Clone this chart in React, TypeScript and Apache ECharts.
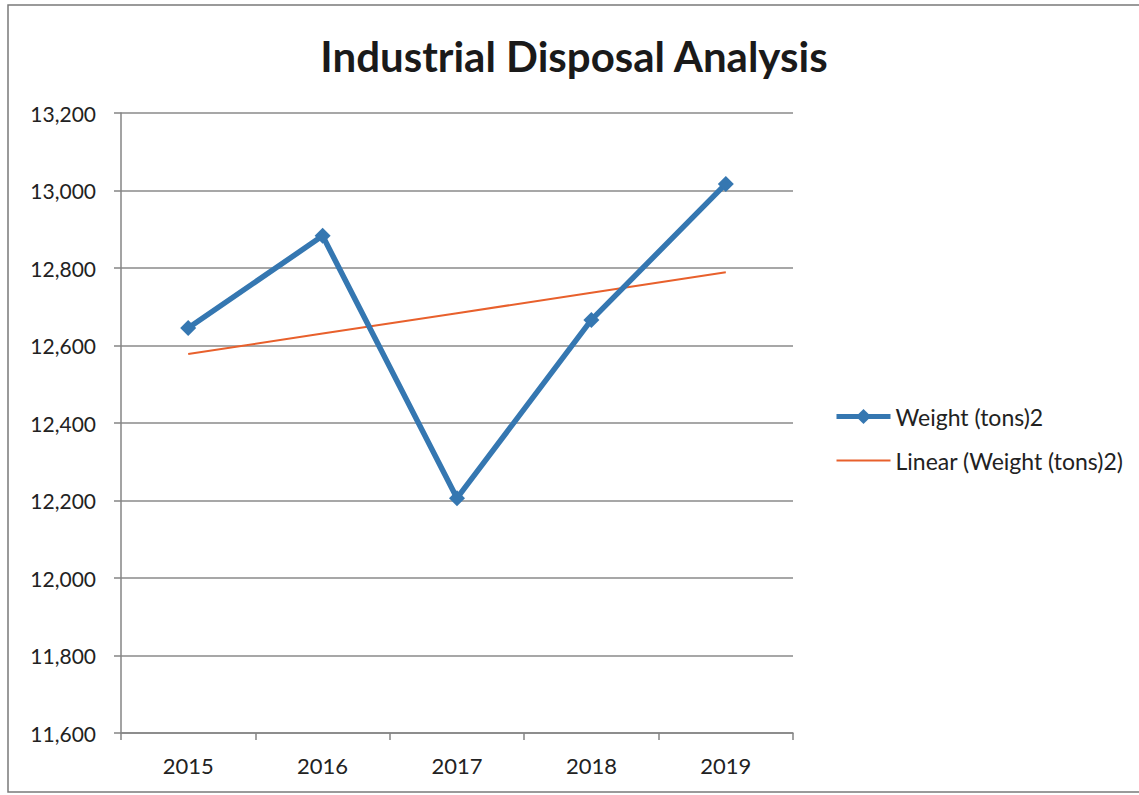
import React, { useEffect, useRef } from "react";
import * as echarts from "echarts";

const categories = ["2015", "2016", "2017", "2018", "2019"];
const weightValues = [12645, 12883, 12206, 12666, 13017];
const yTicks = { min: 11600, max: 13200, interval: 200 };
const seriesName = "Weight (tons)2";
const trendName = "Linear (Weight (tons)2)";

function linearTrend(vals: number[]): number[] {
  const n = vals.length;
  const xs = vals.map((_, i) => i + 1);
  const mx = xs.reduce((a, b) => a + b, 0) / n;
  const my = vals.reduce((a, b) => a + b, 0) / n;
  let num = 0, den = 0;
  for (let i = 0; i < n; i++) {
    num += (xs[i] - mx) * (vals[i] - my);
    den += (xs[i] - mx) * (xs[i] - mx);
  }
  const slope = num / den;
  return xs.map((x) => Math.round((my + slope * (x - mx)) * 10) / 10);
}

export default function App() {
  const ref = useRef<HTMLDivElement>(null);
  useEffect(() => {
    if (!ref.current) return;
    const chart = echarts.init(ref.current, undefined, { renderer: "svg" });
    const font = "Lato, 'Open Sans', sans-serif";
    chart.setOption({
      animation: false,
      backgroundColor: "#ffffff",
      title: {
        text: "Industrial Disposal Analysis",
        left: 569,
        top: 30,
        textAlign: "center",
        textStyle: { fontFamily: font, fontSize: 42, fontWeight: "bold", color: "#1a1a1a" },
      },
      graphic: [
        {
          type: "rect",
          shape: { x: 8, y: 5, width: 1140, height: 787 },
          style: { fill: "none", stroke: "#7a7a7a", lineWidth: 1.5 },
          silent: true,
        },
      ],
      grid: { left: 121, right: 1139 - 793, top: 113, bottom: 795 - 733, containLabel: false },
      legend: {
        orient: "vertical",
        left: 829,
        top: 400,
        itemGap: 21,
        itemWidth: 54,
        itemHeight: 19,
        textStyle: { fontFamily: font, fontSize: 23, color: "#222" },
        data: [
          { name: seriesName, lineStyle: { width: 5 } },
          { name: trendName, itemStyle: { opacity: 0 }, lineStyle: { width: 2 } },
        ],
      },
      xAxis: {
        type: "category",
        data: categories,
        boundaryGap: true,
        axisLine: { lineStyle: { color: "#858585", width: 1.5 } },
        axisTick: { show: true, alignWithLabel: false, length: 7, lineStyle: { color: "#858585", width: 1.5 } },
        axisLabel: { fontFamily: font, fontSize: 22, color: "#222", margin: 21 },
      },
      yAxis: {
        type: "value",
        min: yTicks.min,
        max: yTicks.max,
        interval: yTicks.interval,
        axisLine: { show: true, lineStyle: { color: "#858585", width: 1.5 } },
        axisTick: { show: true, length: 7, lineStyle: { color: "#858585", width: 1.5 } },
        splitLine: { show: true, lineStyle: { color: "#8a8a8a", width: 1.5 } },
        axisLabel: {
          fontFamily: font,
          fontSize: 21,
          color: "#222",
          margin: 25,
          formatter: (v: number) => v.toLocaleString("en-US"),
        },
      },
      series: [
        {
          name: seriesName,
          type: "line",
          data: weightValues,
          symbol: "diamond",
          symbolSize: 16,
          lineStyle: { color: "#3577b1", width: 5.5 },
          itemStyle: { color: "#3577b1" },
          z: 3,
        },
        {
          name: trendName,
          type: "line",
          data: linearTrend(weightValues),
          symbol: "none",
          lineStyle: { color: "#e8602c", width: 2 },
          itemStyle: { color: "#e8602c" },
          z: 2,
        },
      ],
    });
    return () => chart.dispose();
  }, []);
  return (
    <div
      ref={ref}
      style={{ position: "absolute", left: 0, top: 0, width: 1139, height: 795 }}
    />
  );
}
